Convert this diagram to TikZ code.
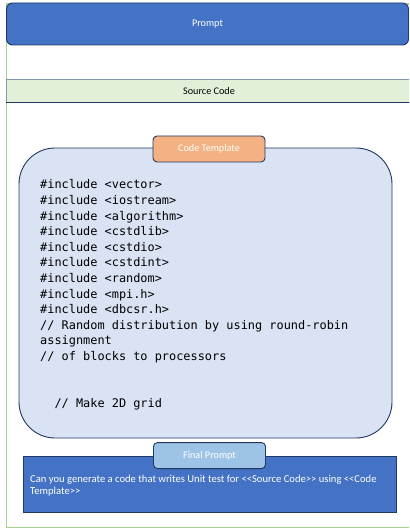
\documentclass[tikz,border=0pt]{standalone}
\usepackage{fontspec}
\setmainfont{Carlito}[Ligatures=TeXOff]
\setmonofont{DejaVu Sans Mono}
\usepackage{tikz}
\usetikzlibrary{positioning}
\definecolor{promptBlue}{HTML}{4472C4}
\definecolor{lineNavy}{HTML}{203864}
\definecolor{srcGreen}{HTML}{E2F0D9}
\definecolor{srcGray}{HTML}{8497B0}
\definecolor{tmplBlue}{HTML}{DAE3F3}
\definecolor{tmplOrange}{HTML}{F4B183}
\definecolor{tabBlue}{HTML}{9DC3E6}
\definecolor{frameGreen}{HTML}{A9D18E}
\newcommand{\codefont}{\ttfamily\fontsize{11.9}{15.6}\selectfont}
\newcommand{\labelfont}{\fontsize{10.2}{11.8}\selectfont}

\begin{document}
\begin{tikzpicture}[x=1pt, y=-1pt,
    bar/.style={draw=lineNavy, line width=0.9pt, inner sep=0pt, font=\labelfont},
    tab/.style={bar, rounded corners=4pt, minimum width=112pt, minimum height=26pt, text=white},
]
    \useasboundingbox (0,0) rectangle (409,529);
    \clip (0,0) rectangle (409,529);
    % outer frame, cut off on the right
    \draw[frameGreen, line width=1.3pt] (6.5,4) rectangle (440,527.5);

    \node[bar, fill=promptBlue, text=white, rounded corners=6pt, minimum width=402pt, minimum height=42pt] (prompt) at (207.5,24) {Prompt};
    \node[bar, fill=srcGreen, draw=srcGray, minimum width=406pt, minimum height=23pt] (src) at (209,90.5) {Source Code};
    \draw[lineNavy, line width=0.9pt] (src.south west) -- (src.south east);

    % code template
    \node[bar, fill=tmplBlue, rounded corners=36pt, minimum width=373pt, minimum height=290pt] (tmpl) at (205.5,293) {};
    \node[tab, fill=tmplOrange] (tmpltab) at (209,149) {Code Template};
    \node[anchor=north west, align=left, inner sep=0pt, font=\codefont] (code) at (40,179.5) {%
        \#include <vector>\\
        \#include <iostream>\\
        \#include <algorithm>\\
        \#include <cstdlib>\\
        \#include <cstdio>\\
        \#include <cstdint>\\
        \#include <random>\\
        \#include <mpi.h>\\
        \#include <dbcsr.h>\\
        // Random distribution by using round-robin\\
        assignment\\
        // of blocks to processors\\
        \mbox{}\\
        \mbox{}\\
        \ \ // Make 2D grid};

    % final prompt
    \node[bar, fill=promptBlue, minimum width=373pt, minimum height=56pt] (final) at (209.5,484) {};
    \node[tab, fill=tabBlue] (finaltab) at (final.north) {Final Prompt};
    \node[anchor=north west, align=left, inner sep=0pt, text=white, font=\fontsize{10.6}{12}\selectfont] (finaltext) at (30,474.5) {Can you generate a code that writes Unit test for <<Source Code>> using <<Code\\Template>>};
\end{tikzpicture}
\end{document}
